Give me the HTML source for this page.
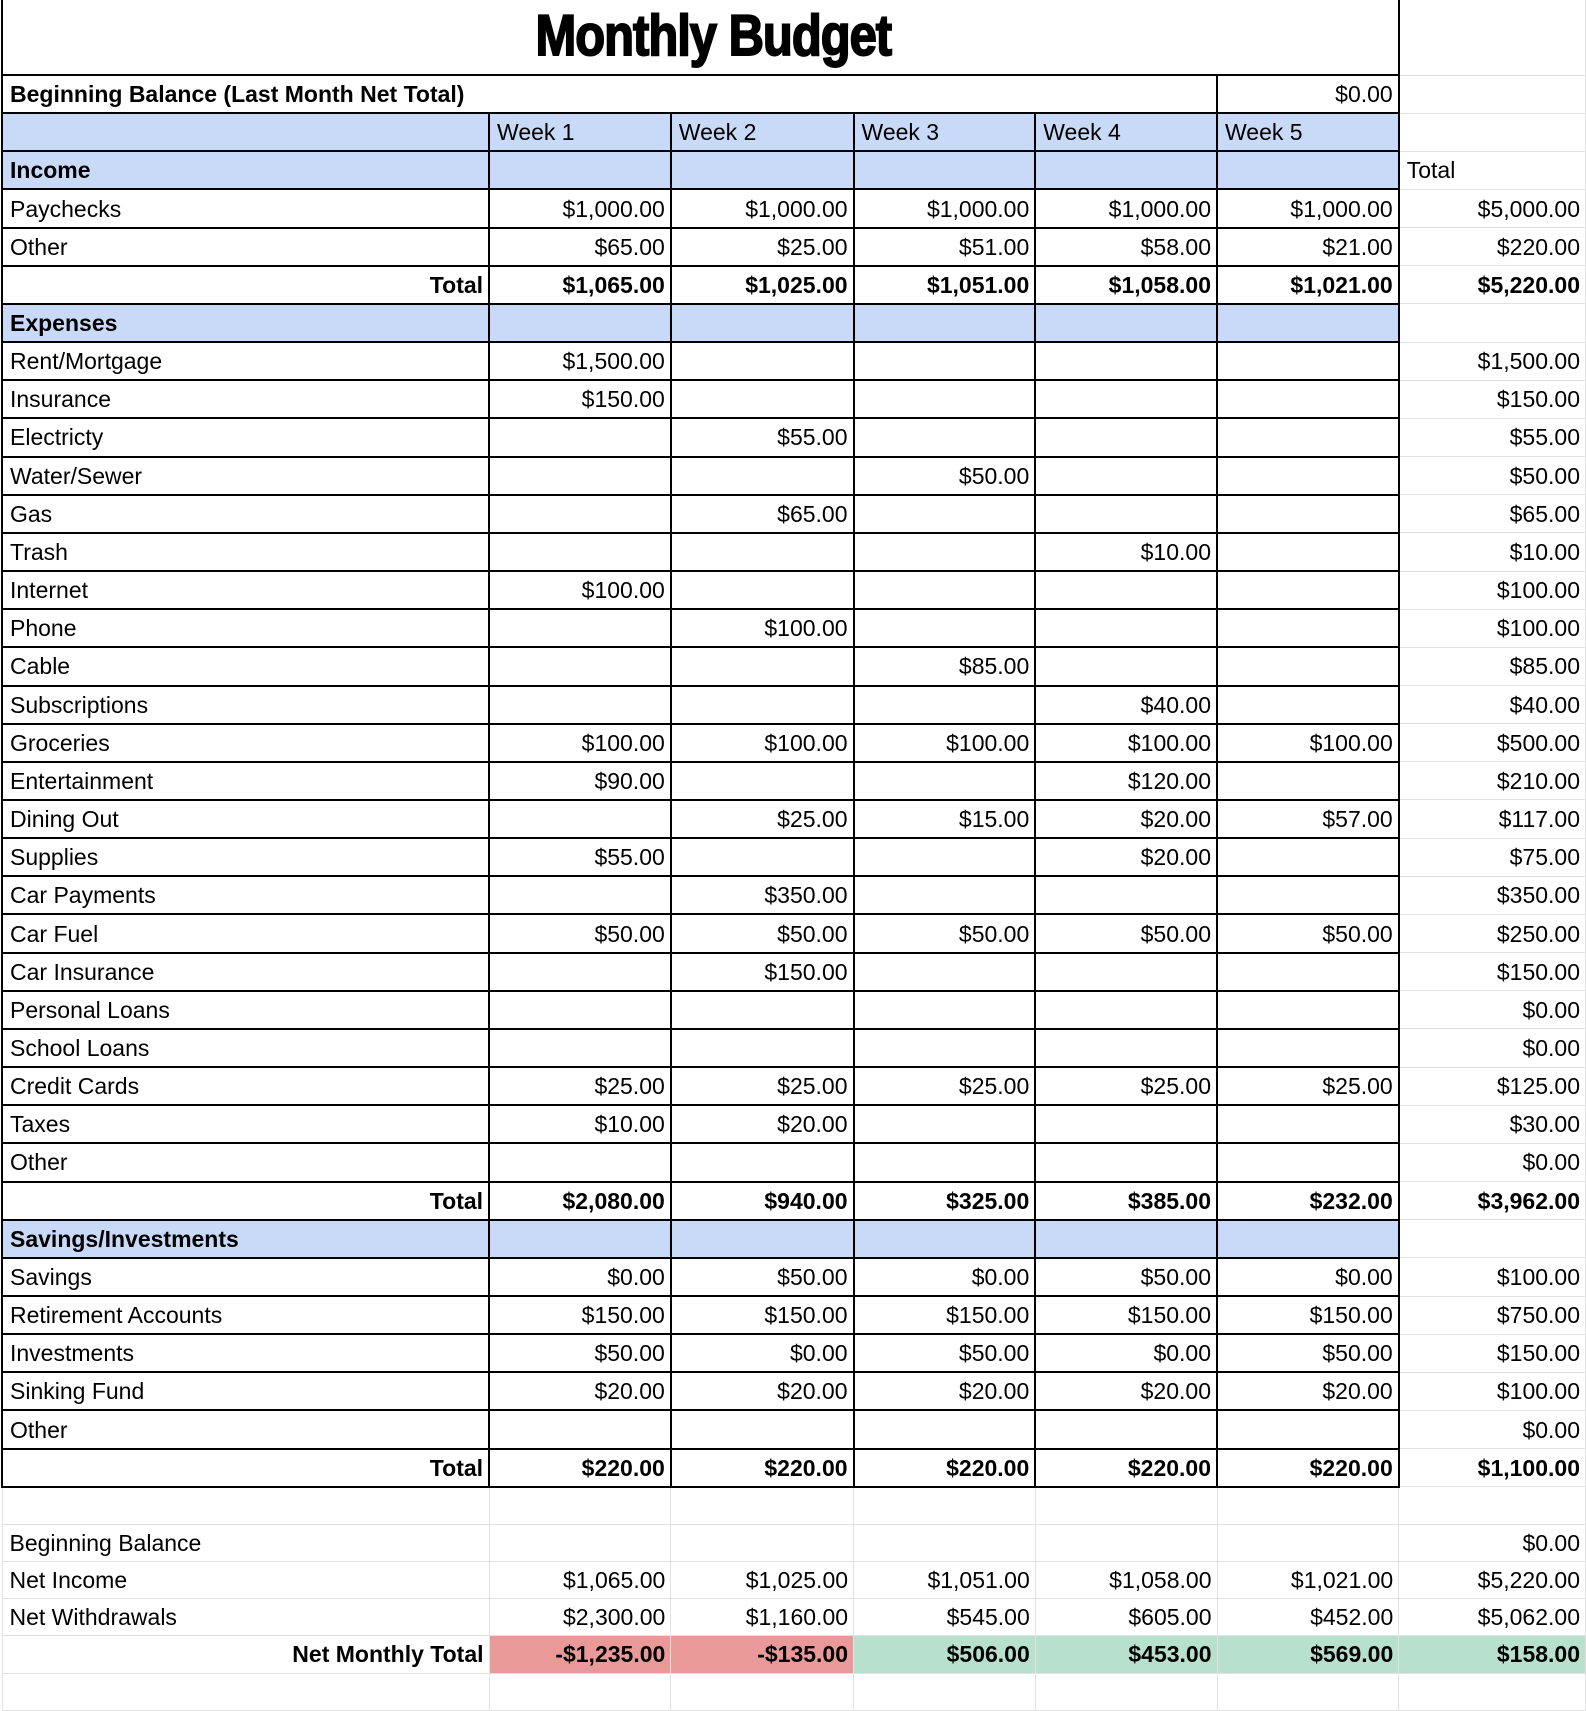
<!DOCTYPE html>
<html><head><meta charset="utf-8"><style>
body{margin:0;background:#fff;width:1586px;height:1676px;overflow:hidden}
table{border-collapse:collapse;table-layout:fixed;font-family:"Liberation Sans",Arial,sans-serif;font-size:23px;color:#000;margin-left:1px}
td{height:36.17px;padding:0 5px 0 7px;border:1px solid #e2e2e2;white-space:nowrap;overflow:hidden;text-align:right;line-height:36px}
td.b{border:2px solid #000}
td.l{text-align:left}
.h{background:#c9daf8}
.bold{font-weight:bold}
.red{background:#ea9999}
.grn{background:#b7e1cd}
.title{height:74px;text-align:center;font-family:"Liberation Sans Narrow","Liberation Sans",sans-serif;font-weight:bold;font-size:48px;border:2px solid #000;border-top:none;line-height:74px;letter-spacing:-1px}
.title span{display:inline-block;transform:scale(1.02,1.2);position:relative;left:12px;-webkit-text-stroke:1.6px #000}
</style></head><body>
<table>
<colgroup><col style="width:488px"><col style="width:182px"><col style="width:183px"><col style="width:182px"><col style="width:182px"><col style="width:182px"><col style="width:187px"></colgroup>
<tr><td colspan="6" class="title"><span>Monthly Budget</span></td><td style="border-top:none"></td></tr>
<tr><td colspan="5" class="b l bold">Beginning Balance (Last Month Net Total)</td><td class="b">$0.00</td><td></td></tr>
<tr><td class="b h"></td><td class="b h l">Week 1</td><td class="b h l">Week 2</td><td class="b h l">Week 3</td><td class="b h l">Week 4</td><td class="b h l">Week 5</td><td></td></tr>
<tr><td class="b h l bold">Income</td><td class="b h"></td><td class="b h"></td><td class="b h"></td><td class="b h"></td><td class="b h"></td><td class="l">Total</td></tr>
<tr><td class="b l">Paychecks</td><td class="b">$1,000.00</td><td class="b">$1,000.00</td><td class="b">$1,000.00</td><td class="b">$1,000.00</td><td class="b">$1,000.00</td><td>$5,000.00</td></tr>
<tr><td class="b l">Other</td><td class="b">$65.00</td><td class="b">$25.00</td><td class="b">$51.00</td><td class="b">$58.00</td><td class="b">$21.00</td><td>$220.00</td></tr>
<tr class="bold"><td class="b">Total</td><td class="b">$1,065.00</td><td class="b">$1,025.00</td><td class="b">$1,051.00</td><td class="b">$1,058.00</td><td class="b">$1,021.00</td><td>$5,220.00</td></tr>
<tr><td class="b h l bold">Expenses</td><td class="b h"></td><td class="b h"></td><td class="b h"></td><td class="b h"></td><td class="b h"></td><td></td></tr>
<tr><td class="b l">Rent/Mortgage</td><td class="b">$1,500.00</td><td class="b"></td><td class="b"></td><td class="b"></td><td class="b"></td><td>$1,500.00</td></tr>
<tr><td class="b l">Insurance</td><td class="b">$150.00</td><td class="b"></td><td class="b"></td><td class="b"></td><td class="b"></td><td>$150.00</td></tr>
<tr><td class="b l">Electricty</td><td class="b"></td><td class="b">$55.00</td><td class="b"></td><td class="b"></td><td class="b"></td><td>$55.00</td></tr>
<tr><td class="b l">Water/Sewer</td><td class="b"></td><td class="b"></td><td class="b">$50.00</td><td class="b"></td><td class="b"></td><td>$50.00</td></tr>
<tr><td class="b l">Gas</td><td class="b"></td><td class="b">$65.00</td><td class="b"></td><td class="b"></td><td class="b"></td><td>$65.00</td></tr>
<tr><td class="b l">Trash</td><td class="b"></td><td class="b"></td><td class="b"></td><td class="b">$10.00</td><td class="b"></td><td>$10.00</td></tr>
<tr><td class="b l">Internet</td><td class="b">$100.00</td><td class="b"></td><td class="b"></td><td class="b"></td><td class="b"></td><td>$100.00</td></tr>
<tr><td class="b l">Phone</td><td class="b"></td><td class="b">$100.00</td><td class="b"></td><td class="b"></td><td class="b"></td><td>$100.00</td></tr>
<tr><td class="b l">Cable</td><td class="b"></td><td class="b"></td><td class="b">$85.00</td><td class="b"></td><td class="b"></td><td>$85.00</td></tr>
<tr><td class="b l">Subscriptions</td><td class="b"></td><td class="b"></td><td class="b"></td><td class="b">$40.00</td><td class="b"></td><td>$40.00</td></tr>
<tr><td class="b l">Groceries</td><td class="b">$100.00</td><td class="b">$100.00</td><td class="b">$100.00</td><td class="b">$100.00</td><td class="b">$100.00</td><td>$500.00</td></tr>
<tr><td class="b l">Entertainment</td><td class="b">$90.00</td><td class="b"></td><td class="b"></td><td class="b">$120.00</td><td class="b"></td><td>$210.00</td></tr>
<tr><td class="b l">Dining Out</td><td class="b"></td><td class="b">$25.00</td><td class="b">$15.00</td><td class="b">$20.00</td><td class="b">$57.00</td><td>$117.00</td></tr>
<tr><td class="b l">Supplies</td><td class="b">$55.00</td><td class="b"></td><td class="b"></td><td class="b">$20.00</td><td class="b"></td><td>$75.00</td></tr>
<tr><td class="b l">Car Payments</td><td class="b"></td><td class="b">$350.00</td><td class="b"></td><td class="b"></td><td class="b"></td><td>$350.00</td></tr>
<tr><td class="b l">Car Fuel</td><td class="b">$50.00</td><td class="b">$50.00</td><td class="b">$50.00</td><td class="b">$50.00</td><td class="b">$50.00</td><td>$250.00</td></tr>
<tr><td class="b l">Car Insurance</td><td class="b"></td><td class="b">$150.00</td><td class="b"></td><td class="b"></td><td class="b"></td><td>$150.00</td></tr>
<tr><td class="b l">Personal Loans</td><td class="b"></td><td class="b"></td><td class="b"></td><td class="b"></td><td class="b"></td><td>$0.00</td></tr>
<tr><td class="b l">School Loans</td><td class="b"></td><td class="b"></td><td class="b"></td><td class="b"></td><td class="b"></td><td>$0.00</td></tr>
<tr><td class="b l">Credit Cards</td><td class="b">$25.00</td><td class="b">$25.00</td><td class="b">$25.00</td><td class="b">$25.00</td><td class="b">$25.00</td><td>$125.00</td></tr>
<tr><td class="b l">Taxes</td><td class="b">$10.00</td><td class="b">$20.00</td><td class="b"></td><td class="b"></td><td class="b"></td><td>$30.00</td></tr>
<tr><td class="b l">Other</td><td class="b"></td><td class="b"></td><td class="b"></td><td class="b"></td><td class="b"></td><td>$0.00</td></tr>
<tr class="bold"><td class="b">Total</td><td class="b">$2,080.00</td><td class="b">$940.00</td><td class="b">$325.00</td><td class="b">$385.00</td><td class="b">$232.00</td><td>$3,962.00</td></tr>
<tr><td class="b h l bold">Savings/Investments</td><td class="b h"></td><td class="b h"></td><td class="b h"></td><td class="b h"></td><td class="b h"></td><td></td></tr>
<tr><td class="b l">Savings</td><td class="b">$0.00</td><td class="b">$50.00</td><td class="b">$0.00</td><td class="b">$50.00</td><td class="b">$0.00</td><td>$100.00</td></tr>
<tr><td class="b l">Retirement Accounts</td><td class="b">$150.00</td><td class="b">$150.00</td><td class="b">$150.00</td><td class="b">$150.00</td><td class="b">$150.00</td><td>$750.00</td></tr>
<tr><td class="b l">Investments</td><td class="b">$50.00</td><td class="b">$0.00</td><td class="b">$50.00</td><td class="b">$0.00</td><td class="b">$50.00</td><td>$150.00</td></tr>
<tr><td class="b l">Sinking Fund</td><td class="b">$20.00</td><td class="b">$20.00</td><td class="b">$20.00</td><td class="b">$20.00</td><td class="b">$20.00</td><td>$100.00</td></tr>
<tr><td class="b l">Other</td><td class="b"></td><td class="b"></td><td class="b"></td><td class="b"></td><td class="b"></td><td>$0.00</td></tr>
<tr class="bold"><td class="b">Total</td><td class="b">$220.00</td><td class="b">$220.00</td><td class="b">$220.00</td><td class="b">$220.00</td><td class="b">$220.00</td><td>$1,100.00</td></tr>
<tr><td></td><td></td><td></td><td></td><td></td><td></td><td></td></tr>
<tr><td class="l">Beginning Balance</td><td></td><td></td><td></td><td></td><td></td><td>$0.00</td></tr>
<tr><td class="l">Net Income</td><td>$1,065.00</td><td>$1,025.00</td><td>$1,051.00</td><td>$1,058.00</td><td>$1,021.00</td><td>$5,220.00</td></tr>
<tr><td class="l">Net Withdrawals</td><td>$2,300.00</td><td>$1,160.00</td><td>$545.00</td><td>$605.00</td><td>$452.00</td><td>$5,062.00</td></tr>
<tr class="bold"><td>Net Monthly Total</td><td class="red">-$1,235.00</td><td class="red">-$135.00</td><td class="grn">$506.00</td><td class="grn">$453.00</td><td class="grn">$569.00</td><td class="grn">$158.00</td></tr>
<tr><td></td><td></td><td></td><td></td><td></td><td></td><td></td></tr>
</table>
</body></html>
